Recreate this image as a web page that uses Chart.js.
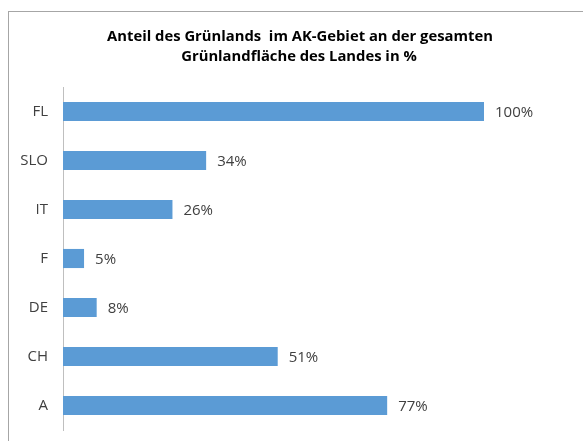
<!DOCTYPE html>
<html>
<head>
<meta charset="utf-8">
<script src="https://cdn.jsdelivr.net/npm/chart.js@4"></script>
<style>
  body { margin: 0; background: #fff; }
  #wrap { position: relative; width: 583px; height: 441px; }
  #frame { position: absolute; left: 8px; top: 11px; right: 0; bottom: 0;
           border-top: 1px solid #a6a6a6; border-left: 1px solid #a6a6a6; }
  canvas { position: absolute; left: 0; top: 0; }
</style>
</head>
<body>
<div id="wrap">
  <div id="frame"></div>
  <canvas id="chart" width="583" height="441"></canvas>
</div>
<script>
// data
var title_lines = ['Anteil des Grünlands  im AK-Gebiet an der gesamten', 'Grünlandfläche des Landes in %'];
var countries = ['FL', 'SLO', 'IT', 'F', 'DE', 'CH', 'A'];
var shares = [100, 34, 26, 5, 8, 51, 77];

var textColor = '#404040';
var fontFam = '"Open Sans", "Noto Sans", sans-serif';

// title + value labels drawn on top
var labelPlugin = {
    id: 'labels',
    afterDraw: function (chart) {
        var ctx = chart.ctx;
        ctx.save();
        ctx.fillStyle = '#000';
        ctx.font = 'bold 14.8px ' + fontFam;
        ctx.textAlign = 'center';
        ctx.textBaseline = 'middle';
        ctx.fillText(title_lines[0], 300, 37);
        ctx.fillText(title_lines[1], 299, 57);

        ctx.fillStyle = textColor;
        ctx.font = '15px ' + fontFam;
        ctx.textAlign = 'left';
        var meta = chart.getDatasetMeta(0);
        meta.data.forEach(function (bar, i) {
            ctx.fillText(shares[i] + '%', bar.x + 11, bar.y + 1);
        });
        ctx.restore();
    }
};

var ctx = document.getElementById('chart').getContext('2d');
var myChart = new Chart(ctx, {
    type: 'bar',
    data: {
        labels: countries,
        datasets: [{
            data: shares,
            backgroundColor: '#5b9bd5',
            categoryPercentage: 1,
            barPercentage: 0.39
        }]
    },
    options: {
        indexAxis: 'y',
        responsive: false,
        animation: false,
        layout: {
            padding: { top: 87, bottom: 11, left: 0, right: 99 }
        },
        plugins: {
            legend: { display: false },
            tooltip: { enabled: false }
        },
        scales: {
            x: {
                display: false,
                min: 0,
                max: 100
            },
            y: {
                afterFit: function (scale) {
                    scale.width = 63;
                    scale.paddingTop = 0;
                    scale.paddingBottom = 0;
                },
                grid: { display: false, drawTicks: false },
                border: { display: true, color: '#bfbfbf', width: 1 },
                ticks: {
                    color: textColor,
                    padding: 15,
                    font: { family: fontFam, size: 15 }
                }
            }
        }
    },
    plugins: [labelPlugin]
});
</script>
</body>
</html>
